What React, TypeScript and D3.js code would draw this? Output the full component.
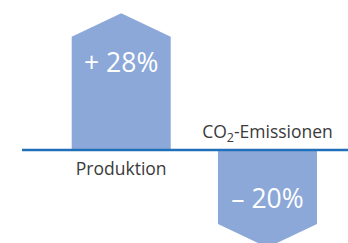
import React, { useRef, useEffect } from 'react';
import * as d3 from 'd3';

const categories = ['Produktion', 'CO2-Emissionen'];
const values = [28, -20];
const valueLabels = ['+ 28%', '– 20%'];

const W = 348;
const H = 243;

const App = () => {
    const ref = useRef<SVGSVGElement>(null);

    useEffect(() => {
        const svg = d3.select(ref.current);
        svg.selectAll('*').remove();

        const x = d3.scaleBand<string>()
            .domain(categories)
            .range([71.7, 317])
            .paddingInner(0.323)
            .paddingOuter(0);

        const y = d3.scaleLinear()
            .domain([-20, 28])
            .range([247.5, 13.3]);

        const head = 23.5;
        const font = "'Open Sans', 'DejaVu Sans', sans-serif";

        // arrow bars
        svg.selectAll('path.bar')
            .data(values)
            .enter()
            .append('path')
            .attr('class', 'bar')
            .attr('fill', '#8ca8d8')
            .attr('d', (d, i) => {
                const x0 = x(categories[i])!;
                const x1 = x0 + x.bandwidth();
                const xm = (x0 + x1) / 2;
                const y0 = y(0);
                const tip = y(d);
                const sh = d > 0 ? tip + head : tip - head;
                return `M${x0},${y0}L${x0},${sh}L${xm},${tip}L${x1},${sh}L${x1},${y0}Z`;
            });

        // baseline
        svg.append('line')
            .attr('x1', 22)
            .attr('x2', W)
            .attr('y1', y(0))
            .attr('y2', y(0))
            .attr('stroke', '#2070b9')
            .attr('stroke-width', 2.5);

        // value labels
        svg.selectAll('text.val')
            .data(values)
            .enter()
            .append('text')
            .attr('class', 'val')
            .attr('x', (d, i) => x(categories[i])! + x.bandwidth() / 2)
            .attr('y', d => d > 0 ? y(d) + 58.5 : y(d) - 39.5)
            .attr('text-anchor', 'middle')
            .attr('fill', '#fff')
            .style('font-family', font)
            .style('font-size', '26.5px')
            .text((d, i) => valueLabels[i]);

        // category labels
        const cat = svg.selectAll('text.cat')
            .data(values)
            .enter()
            .append('text')
            .attr('class', 'cat')
            .attr('x', (d, i) => x(categories[i])! + x.bandwidth() / 2)
            .attr('y', d => d > 0 ? y(0) + 25.5 : y(0) - 12)
            .attr('text-anchor', 'middle')
            .attr('fill', '#3a3a3a')
            .style('font-family', font)
            .style('font-size', '17.5px');

        cat.each(function (d, i) {
            const t = d3.select(this);
            const name = categories[i];
            if (name.startsWith('CO2')) {
                t.append('tspan').text('CO');
                t.append('tspan').attr('dy', 4.5).style('font-size', '12.5px').text('2');
                t.append('tspan').attr('dy', -4.5).text(name.slice(3));
            } else {
                t.text(name);
            }
        });
    }, []);

    return (
        <svg ref={ref} width={W} height={H} style={{ position: 'absolute', left: 0, top: 0 }} />
    );
};

export default App;
